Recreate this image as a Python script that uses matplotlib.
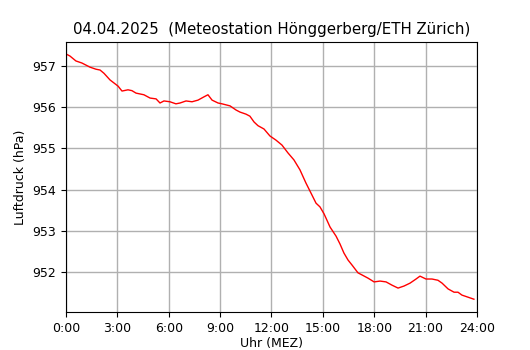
import matplotlib
matplotlib.use("Agg")
import matplotlib.pyplot as plt

hours = [0.0, 0.23, 0.58, 0.93, 1.40, 1.75, 1.99, 2.22, 2.57, 3.04, 3.27, 3.62, 3.85,
         4.09, 4.55, 4.91, 5.26, 5.49, 5.72, 6.07, 6.42, 6.66, 7.01, 7.36, 7.71, 8.06,
         8.29, 8.53, 8.88, 9.11, 9.58, 9.93, 10.16, 10.51, 10.74, 10.98, 11.21, 11.56,
         11.91, 12.26, 12.61, 12.96, 13.31, 13.66, 14.01, 14.36, 14.60, 14.83, 15.07,
         15.42, 15.77, 16.0, 16.23, 16.47, 16.70, 17.05, 17.28, 17.64, 17.99, 18.34,
         18.69, 19.04, 19.39, 19.74, 20.09, 20.44, 20.67, 21.02, 21.37, 21.72, 21.96,
         22.31, 22.66, 22.89, 23.12, 23.47, 23.82]
pressure = [957.29, 957.24, 957.12, 957.07, 956.97, 956.92, 956.90, 956.82, 956.66,
            956.51, 956.39, 956.42, 956.40, 956.34, 956.30, 956.22, 956.20, 956.10,
            956.15, 956.13, 956.08, 956.10, 956.15, 956.13, 956.17, 956.25, 956.30,
            956.17, 956.10, 956.08, 956.03, 955.93, 955.88, 955.83, 955.78, 955.64,
            955.55, 955.47, 955.30, 955.20, 955.08, 954.89, 954.72, 954.48, 954.16,
            953.87, 953.67, 953.58, 953.41, 953.09, 952.87, 952.68, 952.46, 952.29,
            952.17, 951.98, 951.93, 951.85, 951.76, 951.78, 951.76, 951.68, 951.61,
            951.66, 951.73, 951.83, 951.90, 951.83, 951.83, 951.80, 951.73, 951.59,
            951.51, 951.51, 951.44, 951.39, 951.34]

xticks = list(range(0, 25, 3))
xticklabels = [f"{h}:00" for h in xticks]
yticks = [952, 953, 954, 955, 956, 957]

fig = plt.figure(figsize=(5.3, 3.5), dpi=100)
ax = fig.add_axes([0.1245, 0.1086, 0.7755, 0.7714])
ax.plot(hours, pressure, color="red", linewidth=1.0)
ax.set_xlim(0, 24)
ax.set_ylim(951.03, 957.58)
ax.set_xticks(xticks)
ax.set_xticklabels(xticklabels)
ax.set_yticks(yticks)
ax.tick_params(labelsize=9)
ax.grid(True, color="#b0b0b0", linewidth=1.0)
ax.set_axisbelow(True)
ax.set_xlabel("Uhr (MEZ)", fontsize=9, labelpad=2)
ax.set_ylabel("Luftdruck (hPa)", fontsize=9, labelpad=4)
ax.set_title("04.04.2025  (Meteostation Hönggerberg/ETH Zürich)", fontsize=10.8, pad=6)
fig.savefig("out.png", dpi=100)
